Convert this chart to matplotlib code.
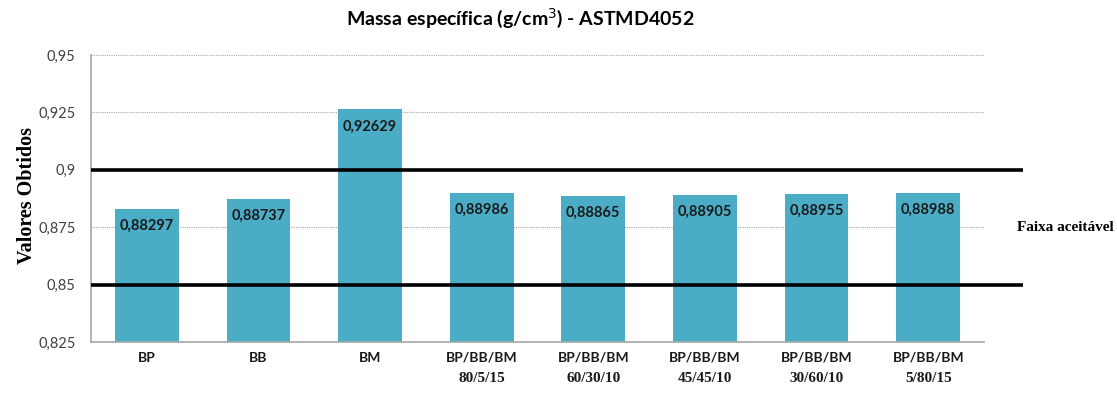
import matplotlib
matplotlib.use("Agg")
import matplotlib.pyplot as plt
import numpy as np

# data
categories = ["BP", "BB", "BM", "BP/BB/BM", "BP/BB/BM", "BP/BB/BM", "BP/BB/BM", "BP/BB/BM"]
ratios = ["", "", "", "80/5/15", "60/30/10", "45/45/10", "30/60/10", "5/80/15"]
values = [0.88297, 0.88737, 0.92629, 0.88986, 0.88865, 0.88905, 0.88955, 0.88988]
limits = [0.85, 0.90]
yticks = [0.825, 0.85, 0.875, 0.9, 0.925, 0.95]

sans = "Lato"
serif = "Liberation Serif"
bar_color = "#4BACC6"

fig = plt.figure(figsize=(11.17, 3.94), dpi=100)
ax = fig.add_axes([91 / 1117, 1 - 342 / 394, (984 - 91) / 1117, (342 - 55) / 394])

x = np.arange(len(values))
bars = ax.bar(x, values, width=0.57, color=bar_color, zorder=2)

ax.set_ylim(0.825, 0.95)
ax.set_xlim(-0.5, len(values) - 0.5)
ax.set_yticks(yticks)
ax.set_yticklabels([f"{v:g}".replace(".", ",") for v in yticks], fontsize=10.5,
                   family=sans, color="#404040")
ax.tick_params(axis="y", length=0, pad=11)
ax.tick_params(axis="x", length=0)
ax.set_xticks(x)
ax.set_xticklabels([])
ax.yaxis.grid(True, linestyle=(0, (1, 1)), color="#a6a6a6", linewidth=0.8, zorder=0)

for side in ["top", "right"]:
    ax.spines[side].set_visible(False)
for side in ["left", "bottom"]:
    ax.spines[side].set_color("#a6a6a6")
    ax.spines[side].set_linewidth(1.2)

# acceptable range lines
for lim in limits:
    ax.plot([-0.5, len(values) - 0.5 + 0.35], [lim, lim], color="black", lw=2.6,
            clip_on=False, zorder=3, solid_capstyle="butt")

# value labels inside bars
for b, v in zip(bars, values):
    ax.annotate(f"{v:.5f}".replace(".", ","), (b.get_x() + b.get_width() / 2, v),
                xytext=(0, -17), textcoords="offset pixels", ha="center", va="center",
                fontsize=10.5, fontweight="bold", family=sans, color="#1a1a1a", zorder=4)

# category labels, two lines
for xi, cat, r in zip(x, categories, ratios):
    ax.annotate(cat, (xi, 0.825), xytext=(0, -16), textcoords="offset pixels",
                ha="center", va="center", fontsize=10, fontweight="bold",
                family=sans, color="#1a1a1a")
    if r:
        ax.annotate(r, (xi, 0.825), xytext=(0, -37), textcoords="offset pixels",
                    ha="center", va="center", fontsize=11, fontweight="bold",
                    family=serif, color="#1a1a1a")

fig.text(27 / 1117, 1 - 196 / 394, "Valores Obtidos", family=serif, fontweight="bold",
         fontsize=14.5, rotation=90, ha="center", va="center")

fig.text(1065 / 1117, 1 - 228 / 394, "Faixa aceitável", family=serif,
         fontweight="bold", fontsize=11, ha="center", va="center")

fig.text(520 / 1117, 1 - 18 / 394, "Massa específica (g/cm$^3$) - ASTMD4052",
         family=sans, fontweight="bold", fontsize=14, ha="center", va="center")

fig.savefig("out.png", dpi=100)
